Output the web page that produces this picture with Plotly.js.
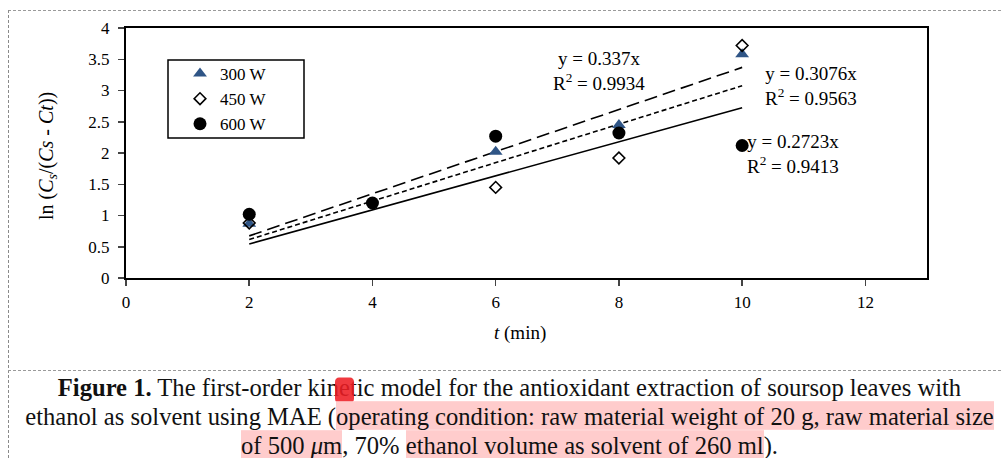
<!DOCTYPE html>
<html>
<head>
<meta charset="utf-8">
<script src="https://cdn.plot.ly/plotly-3.0.1.min.js"></script>
<style>
  html, body { margin:0; padding:0; background:#fff; }
  #wrap { position:relative; width:1001px; height:458px; overflow:hidden; }
  #chart { position:absolute; left:0; top:0; width:1001px; height:458px; }
  .dash-h { position:absolute; height:0; border-top:1px dashed #9a9a9a; }
  .dash-v { position:absolute; width:0; border-left:1px dashed #8a8a8a; }
  #caption { position:absolute; left:18px; top:372px; width:983px; font-family:"Liberation Serif","Times New Roman",serif; font-size:24.6px; color:#111; text-align:center; }
  #caption .ln { height:29px; line-height:29px; white-space:nowrap; transform:scaleY(1.06); }
  .hl { background:#ffcccc; }
  .mk { position:relative; }
  .mk::after { content:""; position:absolute; left:8px; top:5px; width:19px; height:24px; background:rgba(238,30,36,0.88); border-radius:4px; }
</style>
</head>
<body>
<div id="wrap">
  <div id="chart"></div>
  <div class="dash-h" style="left:8px; top:10px; width:993px;"></div>
  <div class="dash-v" style="left:8px; top:10px; height:448px;"></div>
  <div class="dash-h" style="left:8px; top:370px; width:993px;"></div>
  <div id="caption">
    <div class="ln"><b>Figure 1.</b> The first-order ki<span class="mk">ne</span>tic model for the antioxidant extraction of soursop leaves with</div>
    <div class="ln">ethanol as solvent using MAE (<span class="hl">operating condition: raw material weight of 20 g, raw material size</span></div>
    <div class="ln"><span class="hl">of 500 <i>μ</i>m</span>, 70% <span class="hl">ethanol volume as solvent of 260 ml</span>).</div>
  </div>
</div>
<script>
// ---- data ----
const times = [2, 4, 6, 8, 10];
const w300 = [0.87, null, 2.02, 2.45, 3.58];
const w450 = [0.88, null, 1.45, 1.92, 3.72];
const w600 = [1.02, 1.20, 2.27, 2.32, 2.12];
const seriesNames = ["300 W", "450 W", "600 W"];
const trendSlopes = [0.337, 0.3076, 0.2723];
const trendR2 = ["0.9934", "0.9563", "0.9413"];
const trendRange = [2, 10];
const xTicks = [0, 2, 4, 6, 8, 10, 12];

const serif = "Liberation Serif, Times New Roman, serif";
const dashes = ["13px,6px", "5px,3px", "solid"];

const traces = [];
// trend lines (through origin, drawn over the data range)
trendSlopes.forEach((k, i) => {
  traces.push({
    x: trendRange, y: trendRange.map(t => k * t),
    mode: "lines", type: "scatter", showlegend: false, hoverinfo: "skip",
    line: { color: "#000", width: 1.6, dash: dashes[i] }
  });
});
traces.push({
  x: times, y: w300, name: seriesNames[0], mode: "markers", type: "scatter",
  marker: { symbol: "triangle-up", size: 12, color: "#2f5586" }
});
traces.push({
  x: times, y: w450, name: seriesNames[1], mode: "markers", type: "scatter",
  marker: { symbol: "diamond-open", size: 9, color: "#000", line: { width: 1.6, color: "#000" } }
});
traces.push({
  x: times, y: w600, name: seriesNames[2], mode: "markers", type: "scatter",
  marker: { symbol: "circle", size: 13, color: "#000" }
});

const eqAnn = [
  { x: 7.67, y: 3.31, i: 0 },
  { x: 11.12, y: 3.07, i: 1 },
  { x: 10.83, y: 1.98, i: 2 }
];
const annotations = [];
eqAnn.forEach(a => {
  annotations.push({
    x: a.x, y: a.y, xref: "x", yref: "y", showarrow: false,
    xanchor: "center", yanchor: "middle",
    text: "y = " + trendSlopes[a.i] + "x<br>R<sup>2</sup> = " + trendR2[a.i],
    font: { family: serif, size: 19, color: "#000" }, align: "center"
  });
});
annotations.push({
  xref: "paper", yref: "paper", x: (47 - 126) / 801, y: (278 - 156) / 250,
  xanchor: "center", yanchor: "middle",
  textangle: -90, showarrow: false,
  text: "ln (<i>C<sub>s</sub></i>/(<i>Cs</i> - <i>Ct</i>))",
  font: { family: serif, size: 20, color: "#000" }
});
annotations.push({
  xref: "paper", yref: "paper", x: (520 - 126) / 801, y: (278 - 333) / 250,
  xanchor: "center", yanchor: "middle",
  showarrow: false, text: "<i>t</i> (min)",
  font: { family: serif, size: 19, color: "#000" }
});

const boxL = (168 - 126) / 801, boxR = (304 - 126) / 801;
const boxT = (278 - 60) / 250, boxB = (278 - 138) / 250;

const layout = {
  width: 1001, height: 458,
  margin: { l: 126, r: 74, t: 28, b: 180 },
  paper_bgcolor: "#fff", plot_bgcolor: "#fff",
  font: { family: serif, color: "#000", size: 17 },
  showlegend: true,
  legend: {
    x: (180 - 126) / 801, y: (278 - 56) / 250, xanchor: "left", yanchor: "top",
    borderwidth: 0, bgcolor: "rgba(0,0,0,0)",
    font: { family: serif, size: 17, color: "#000" }, itemwidth: 30
  },
  shapes: [{
    type: "rect", xref: "paper", yref: "paper", x0: boxL, x1: boxR, y0: boxB, y1: boxT,
    line: { color: "#000", width: 1.5 }, fillcolor: "rgba(0,0,0,0)", layer: "above"
  }],
  xaxis: {
    range: [0, 13], tickvals: xTicks, ticks: "outside", ticklen: 6, tickwidth: 1.5,
    showgrid: false, zeroline: false, showline: true, linewidth: 2, linecolor: "#000",
    mirror: true, tickfont: { family: serif, size: 17 }, ticklabelstandoff: 2, fixedrange: true
  },
  yaxis: {
    range: [0, 4], dtick: 0.5, ticks: "outside", ticklen: 6, tickwidth: 1.5,
    showgrid: false, zeroline: false, showline: true, linewidth: 2, linecolor: "#000",
    mirror: true, tickfont: { family: serif, size: 17 }, ticklabelstandoff: 5, fixedrange: true
  },
  annotations: annotations
};

Plotly.newPlot("chart", traces, layout, { displayModeBar: false, staticPlot: true });
</script>
</body>
</html>
